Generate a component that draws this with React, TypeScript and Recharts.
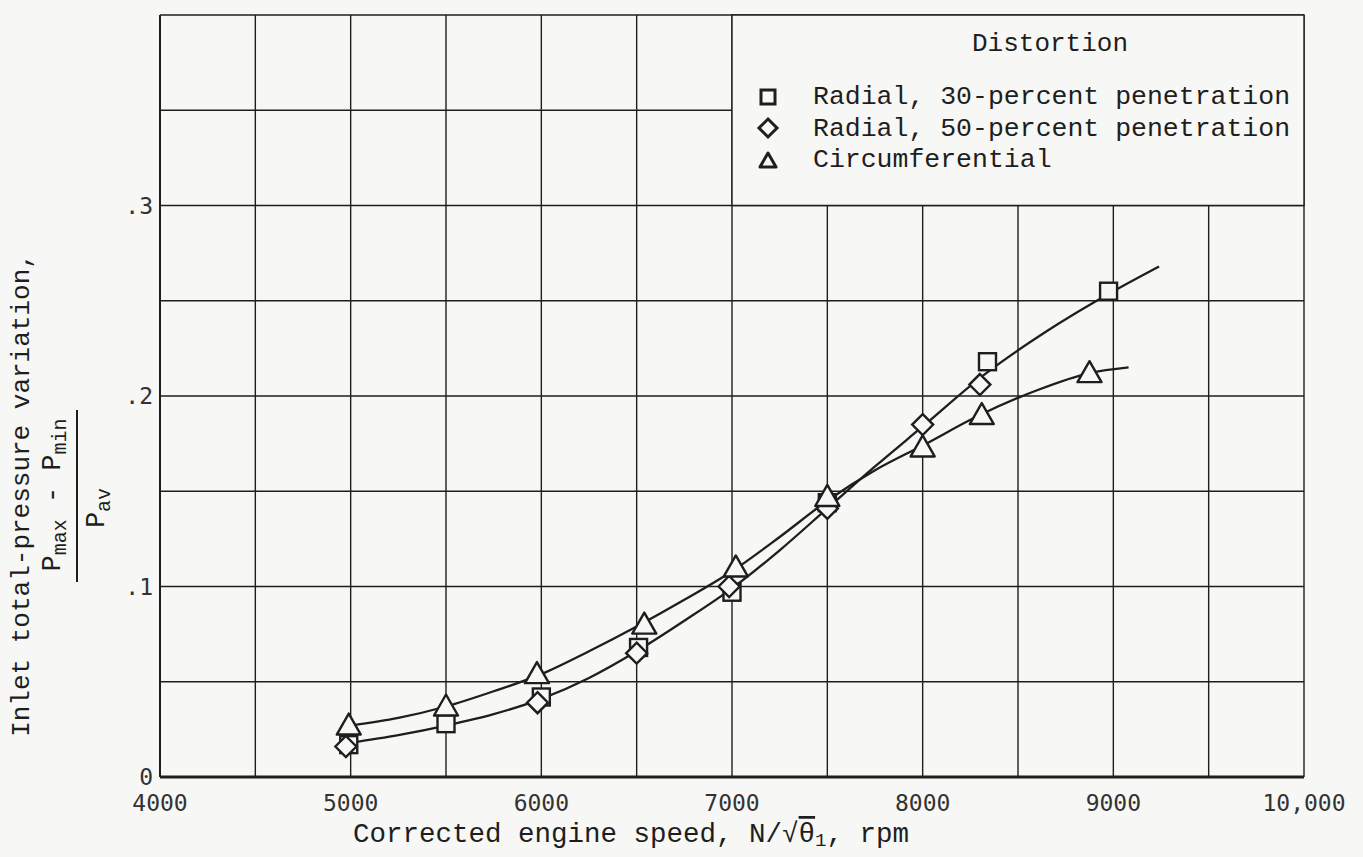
import React from "react"
import {
  ComposedChart,
  Line,
  Scatter,
  XAxis,
  YAxis,
  CartesianGrid,
  ReferenceArea,
  Legend,
} from "recharts"

// measured points
const radial30X = [4990, 5500, 6000, 6510, 7000, 7500, 8340, 8975]
const radial30Y = [0.017, 0.028, 0.042, 0.068, 0.097, 0.144, 0.218, 0.255]

const radial50X = [4975, 5980, 6500, 6985, 7500, 8000, 8300]
const radial50Y = [0.016, 0.039, 0.065, 0.1, 0.141, 0.185, 0.206]

const circX = [4990, 5500, 5977, 6540, 7020, 7500, 8000, 8310, 8875]
const circY = [0.027, 0.037, 0.054, 0.08, 0.11, 0.147, 0.173, 0.19, 0.212]

// faired curves
const radialCurveX = [5000, 5250, 5500, 5750, 6000, 6250, 6500, 6750, 7000, 7250, 7500, 7750, 8000, 8320, 8650, 9000, 9240]
const radialCurveY = [0.018, 0.022, 0.027, 0.033, 0.041, 0.052, 0.066, 0.082, 0.099, 0.119, 0.141, 0.163, 0.184, 0.211, 0.234, 0.255, 0.268]

const circCurveX = [5000, 5250, 5500, 5750, 6000, 6250, 6500, 6750, 7000, 7250, 7500, 7750, 8000, 8300, 8600, 8875, 9080]
const circCurveY = [0.027, 0.031, 0.037, 0.045, 0.054, 0.066, 0.079, 0.093, 0.108, 0.126, 0.145, 0.161, 0.174, 0.19, 0.203, 0.212, 0.215]

const xTicks = [4000, 4500, 5000, 5500, 6000, 6500, 7000, 7500, 8000, 8500, 9000, 9500, 10000]
const xTickLabels = ["4000", "", "5000", "", "6000", "", "7000", "", "8000", "", "9000", "", "10,000"]
const yTicks = [0, 0.05, 0.1, 0.15, 0.2, 0.25, 0.3, 0.35, 0.4]
const yTickLabels = ["0", "", ".1", "", ".2", "", ".3", "", ""]

const legendNames = [
  "Radial, 30-percent penetration",
  "Radial, 50-percent penetration",
  "Circumferential",
]

const zip = (xs: number[], ys: number[]) => xs.map((x, i) => ({ x, y: ys[i] }))

const radial30 = zip(radial30X, radial30Y)
const radial50 = zip(radial50X, radial50Y)
const circ = zip(circX, circY)
const radialCurve = zip(radialCurveX, radialCurveY)
const circCurve = zip(circCurveX, circCurveY)

const INK = "#1e1e1e"
const BG = "#f7f7f5"
const MONO = "'Liberation Mono', monospace"
const TICKFONT = "'DejaVu Sans Mono', monospace"

const SquareMark = (props: any) => {
  const { cx, cy, s = 17, sw = 2.4 } = props
  return <rect x={cx - s / 2} y={cy - s / 2} width={s} height={s} fill={BG} stroke={INK} strokeWidth={sw} />
}

const DiamondMark = (props: any) => {
  const { cx, cy, r = 10.5, sw = 2.4 } = props
  return (
    <polygon
      points={`${cx},${cy - r} ${cx + r},${cy} ${cx},${cy + r} ${cx - r},${cy}`}
      fill={BG}
      stroke={INK}
      strokeWidth={sw}
    />
  )
}

const TriangleMark = (props: any) => {
  const { cx, cy, r = 12, sw = 2.4 } = props
  return (
    <polygon
      points={`${cx},${cy - r} ${cx + r},${cy + r * 0.75} ${cx - r},${cy + r * 0.75}`}
      fill={BG}
      stroke={INK}
      strokeWidth={sw}
      strokeLinejoin="round"
    />
  )
}

const LegendBox = () => {
  const marks = [
    <SquareMark cx={35} cy={82} s={14} sw={3} />,
    <DiamondMark cx={35} cy={113} r={9} sw={3} />,
    <TriangleMark cx={35} cy={146} r={8} sw={3} />,
  ]
  return (
    <svg width={571} height={190}>
      <text x={317} y={29} textAnchor="middle" dominantBaseline="central" fontFamily={MONO} fontSize={26} fill={INK}>
        Distortion
      </text>
      {legendNames.map((name, i) => (
        <g key={name}>
          {marks[i]}
          <text x={80} y={82 + i * 31.5} dominantBaseline="central" fontFamily={MONO} fontSize={26.5} fill={INK}>
            {name}
          </text>
        </g>
      ))}
    </svg>
  )
}

export default function App() {
  return (
    <div style={{ position: "absolute", left: 0, top: 0, width: 1363, height: 857, background: BG }}>
      <ComposedChart width={1363} height={857} margin={{ top: 15, right: 59, left: 0, bottom: 0 }}>
        <CartesianGrid stroke={INK} strokeWidth={1.4} horizontal vertical />
        <XAxis
          type="number"
          dataKey="x"
          domain={[4000, 10000]}
          ticks={xTicks}
          tickFormatter={(v: number) => xTickLabels[xTicks.indexOf(v)] ?? ""}
          tickLine={false}
          tickSize={0}
          tickMargin={18}
          height={80}
          axisLine={{ stroke: INK, strokeWidth: 3 }}
          tick={{ fill: "#333", fontSize: 23, fontFamily: TICKFONT }}
          allowDataOverflow
        />
        <YAxis
          type="number"
          dataKey="y"
          domain={[0, 0.4]}
          ticks={yTicks}
          tickFormatter={(v: number) => yTickLabels[Math.round(v * 20)] ?? ""}
          tickLine={false}
          tickSize={0}
          tickMargin={7}
          width={160}
          axisLine={{ stroke: INK, strokeWidth: 2 }}
          tick={{ fill: "#333", fontSize: 23, fontFamily: TICKFONT }}
          allowDataOverflow
        />
        <ReferenceArea x1={7000} x2={10000} y1={0.3} y2={0.4} fill={BG} fillOpacity={1} stroke={INK} strokeWidth={1.4} />
        <Line data={radialCurve} dataKey="y" type="monotone" stroke={INK} strokeWidth={2.3} dot={false} activeDot={false} isAnimationActive={false} />
        <Line data={circCurve} dataKey="y" type="monotone" stroke={INK} strokeWidth={2.3} dot={false} activeDot={false} isAnimationActive={false} />
        <Scatter data={radial30} dataKey="y" shape={<SquareMark />} isAnimationActive={false} />
        <Scatter data={radial50} dataKey="y" shape={<DiamondMark />} isAnimationActive={false} />
        <Scatter data={circ} dataKey="y" shape={<TriangleMark />} isAnimationActive={false} />
        <Legend
          layout="horizontal"
          verticalAlign="middle"
          align="center"
          wrapperStyle={{ position: "absolute", left: 733, top: 15, width: 571, height: 190 }}
          content={() => <LegendBox />}
        />
      </ComposedChart>
      <svg
        width={1363}
        height={857}
        style={{ position: "absolute", left: 0, top: 0, pointerEvents: "none" }}
        fontFamily={MONO}
        fill={INK}
      >
        <text x={353} y={834} dominantBaseline="central" fontSize={27.5}>
          Corrected engine speed, N/√
          <tspan style={{ textDecoration: "overline" }}>θ</tspan>
          <tspan fontSize={19} dy={7}>1</tspan>
          <tspan dy={-7}>, rpm</tspan>
        </text>
        <g transform="translate(22,495) rotate(-90)">
          <text textAnchor="middle" dominantBaseline="central" fontSize={26}>
            Inlet total-pressure variation,
          </text>
        </g>
        <g transform="translate(53,495) rotate(-90)">
          <text textAnchor="middle" dominantBaseline="central" fontSize={27}>
            P<tspan fontSize={20} dy={7}>max</tspan>
            <tspan dy={-7}> - P</tspan>
            <tspan fontSize={20} dy={7}>min</tspan>
          </text>
        </g>
        <line x1={77} y1={410} x2={77} y2={582} stroke={INK} strokeWidth={2} />
        <g transform="translate(97,508) rotate(-90)">
          <text textAnchor="middle" dominantBaseline="central" fontSize={27}>
            P<tspan fontSize={20} dy={7}>av</tspan>
          </text>
        </g>
      </svg>
    </div>
  )
}
